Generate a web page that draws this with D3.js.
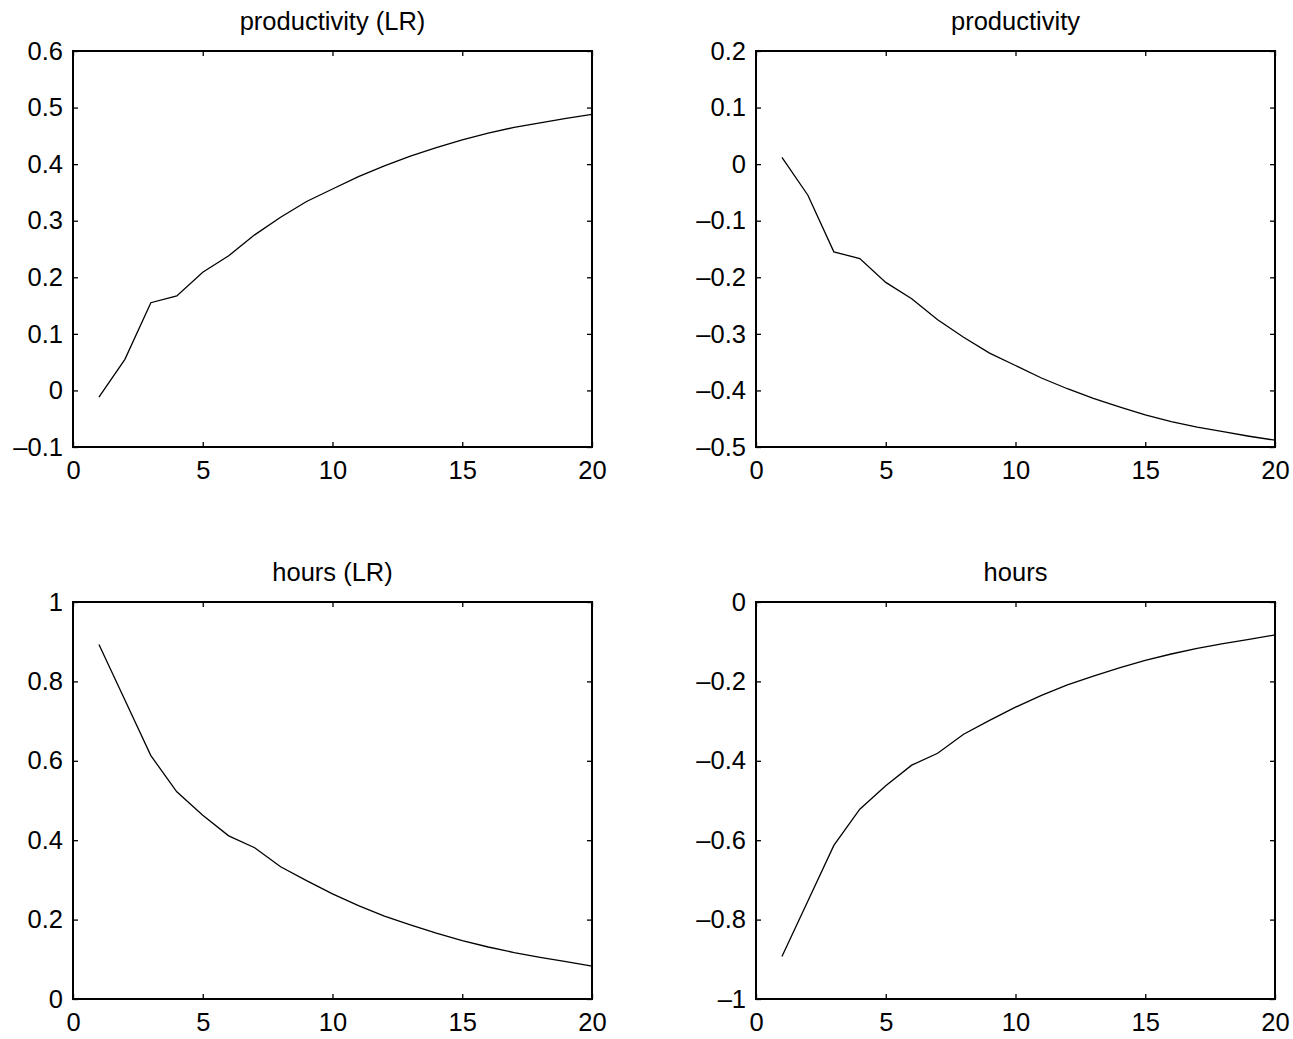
<!DOCTYPE html>
<html>
<head>
<meta charset="utf-8">
<script src="https://cdn.jsdelivr.net/npm/d3@7"></script>
<style>
    html, body { margin: 0; padding: 0; background: #fff; }
    svg { display: block; }
    text { font-family: Arial, "Liberation Sans", Helvetica, sans-serif; fill: #000; }
</style>
</head>
<body>
<div id="chart"></div>
<script>
// horizonte (periodos)
const periods = d3.range(1, 21);
const xTicks = [0, 5, 10, 15, 20];

// respuestas
const prodLR = [-0.012, 0.055, 0.155, 0.167, 0.209, 0.238, 0.275, 0.306, 0.334, 0.356,
                0.378, 0.397, 0.414, 0.429, 0.443, 0.455, 0.465, 0.473, 0.481, 0.488];
const prod = [0.012, -0.055, -0.155, -0.167, -0.209, -0.238, -0.275, -0.306, -0.334, -0.356,
              -0.378, -0.397, -0.414, -0.429, -0.443, -0.455, -0.465, -0.473, -0.481, -0.488];
const hoursLR = [0.893, 0.753, 0.613, 0.522, 0.463, 0.411, 0.381, 0.333, 0.298, 0.265,
                 0.235, 0.209, 0.187, 0.166, 0.147, 0.131, 0.117, 0.105, 0.094, 0.083];
const hours = [-0.893, -0.753, -0.613, -0.522, -0.463, -0.411, -0.381, -0.333, -0.298, -0.265,
               -0.235, -0.209, -0.187, -0.166, -0.147, -0.131, -0.117, -0.105, -0.094, -0.083];

const titles = ['productivity (LR)', 'productivity', 'hours (LR)', 'hours'];
const yTicksProdLR = [-0.1, 0, 0.1, 0.2, 0.3, 0.4, 0.5, 0.6];
const yTicksProd = [-0.5, -0.4, -0.3, -0.2, -0.1, 0, 0.1, 0.2];
const yTicksHoursLR = [0, 0.2, 0.4, 0.6, 0.8, 1];
const yTicksHours = [-1, -0.8, -0.6, -0.4, -0.2, 0];

const width = 1293, height = 1039;
const cols = [[73, 592], [756, 1275]];
const rows = [[51, 447], [602, 999]];
const fontSize = 25.5;
const tickLen = 5;

const panels = [
    { title: titles[0], values: prodLR, ticks: yTicksProdLR, col: 0, row: 0 },
    { title: titles[1], values: prod, ticks: yTicksProd, col: 1, row: 0 },
    { title: titles[2], values: hoursLR, ticks: yTicksHoursLR, col: 0, row: 1 },
    { title: titles[3], values: hours, ticks: yTicksHours, col: 1, row: 1 }
];

const svg = d3.select('#chart').append('svg')
    .attr('width', width)
    .attr('height', height);

const fmt = v => d3.format('~g')(Math.round(v * 10) / 10).replace('−', '–').replace('-', '–');

panels.forEach(p => drawPanel(p));

function drawPanel(p) {
    const [x0, x1] = cols[p.col];
    const [y0, y1] = rows[p.row];
    const x = d3.scaleLinear().domain([0, 20]).range([x0, x1]);
    const y = d3.scaleLinear().domain(d3.extent(p.ticks)).range([y1, y0]);
    const g = svg.append('g');

    // ejes con ticks hacia adentro
    const axes = [
        { axis: d3.axisBottom(x).tickValues(xTicks), t: `translate(0,${y1})`, labels: true },
        { axis: d3.axisTop(x).tickValues(xTicks), t: `translate(0,${y0})`, labels: false },
        { axis: d3.axisLeft(y).tickValues(p.ticks), t: `translate(${x0},0)`, labels: true },
        { axis: d3.axisRight(y).tickValues(p.ticks), t: `translate(${x1},0)`, labels: false }
    ];
    axes.forEach(a => {
        a.axis.tickSizeInner(-tickLen).tickSizeOuter(0).tickPadding(10).tickFormat(fmt);
        const ag = g.append('g').attr('transform', a.t).call(a.axis);
        ag.select('.domain').remove();
        ag.selectAll('line').attr('stroke', '#000').attr('stroke-width', 1.3);
        ag.selectAll('text')
            .style('font-size', fontSize + 'px')
            .attr('fill', '#000');
        if (!a.labels) ag.selectAll('text').remove();
    });
    // ajustar posicion de etiquetas
    g.selectAll('text').each(function () {
        const t = d3.select(this);
        if (t.attr('dy') === '0.71em') t.attr('y', 14);
    });

    // caja
    g.append('rect')
        .attr('x', x0).attr('y', y0)
        .attr('width', x1 - x0).attr('height', y1 - y0)
        .attr('fill', 'none')
        .attr('stroke', '#000')
        .attr('stroke-width', 2);

    // linea
    const line = d3.line()
        .x((d, i) => x(periods[i]))
        .y(d => y(d));
    g.append('path')
        .datum(p.values)
        .attr('d', line)
        .attr('fill', 'none')
        .attr('stroke', '#000')
        .attr('stroke-width', 1.3);

    g.append('text')
        .attr('x', (x0 + x1) / 2)
        .attr('y', y0 - 21)
        .attr('text-anchor', 'middle')
        .style('font-size', fontSize + 'px')
        .text(p.title);
}
</script>
</body>
</html>
